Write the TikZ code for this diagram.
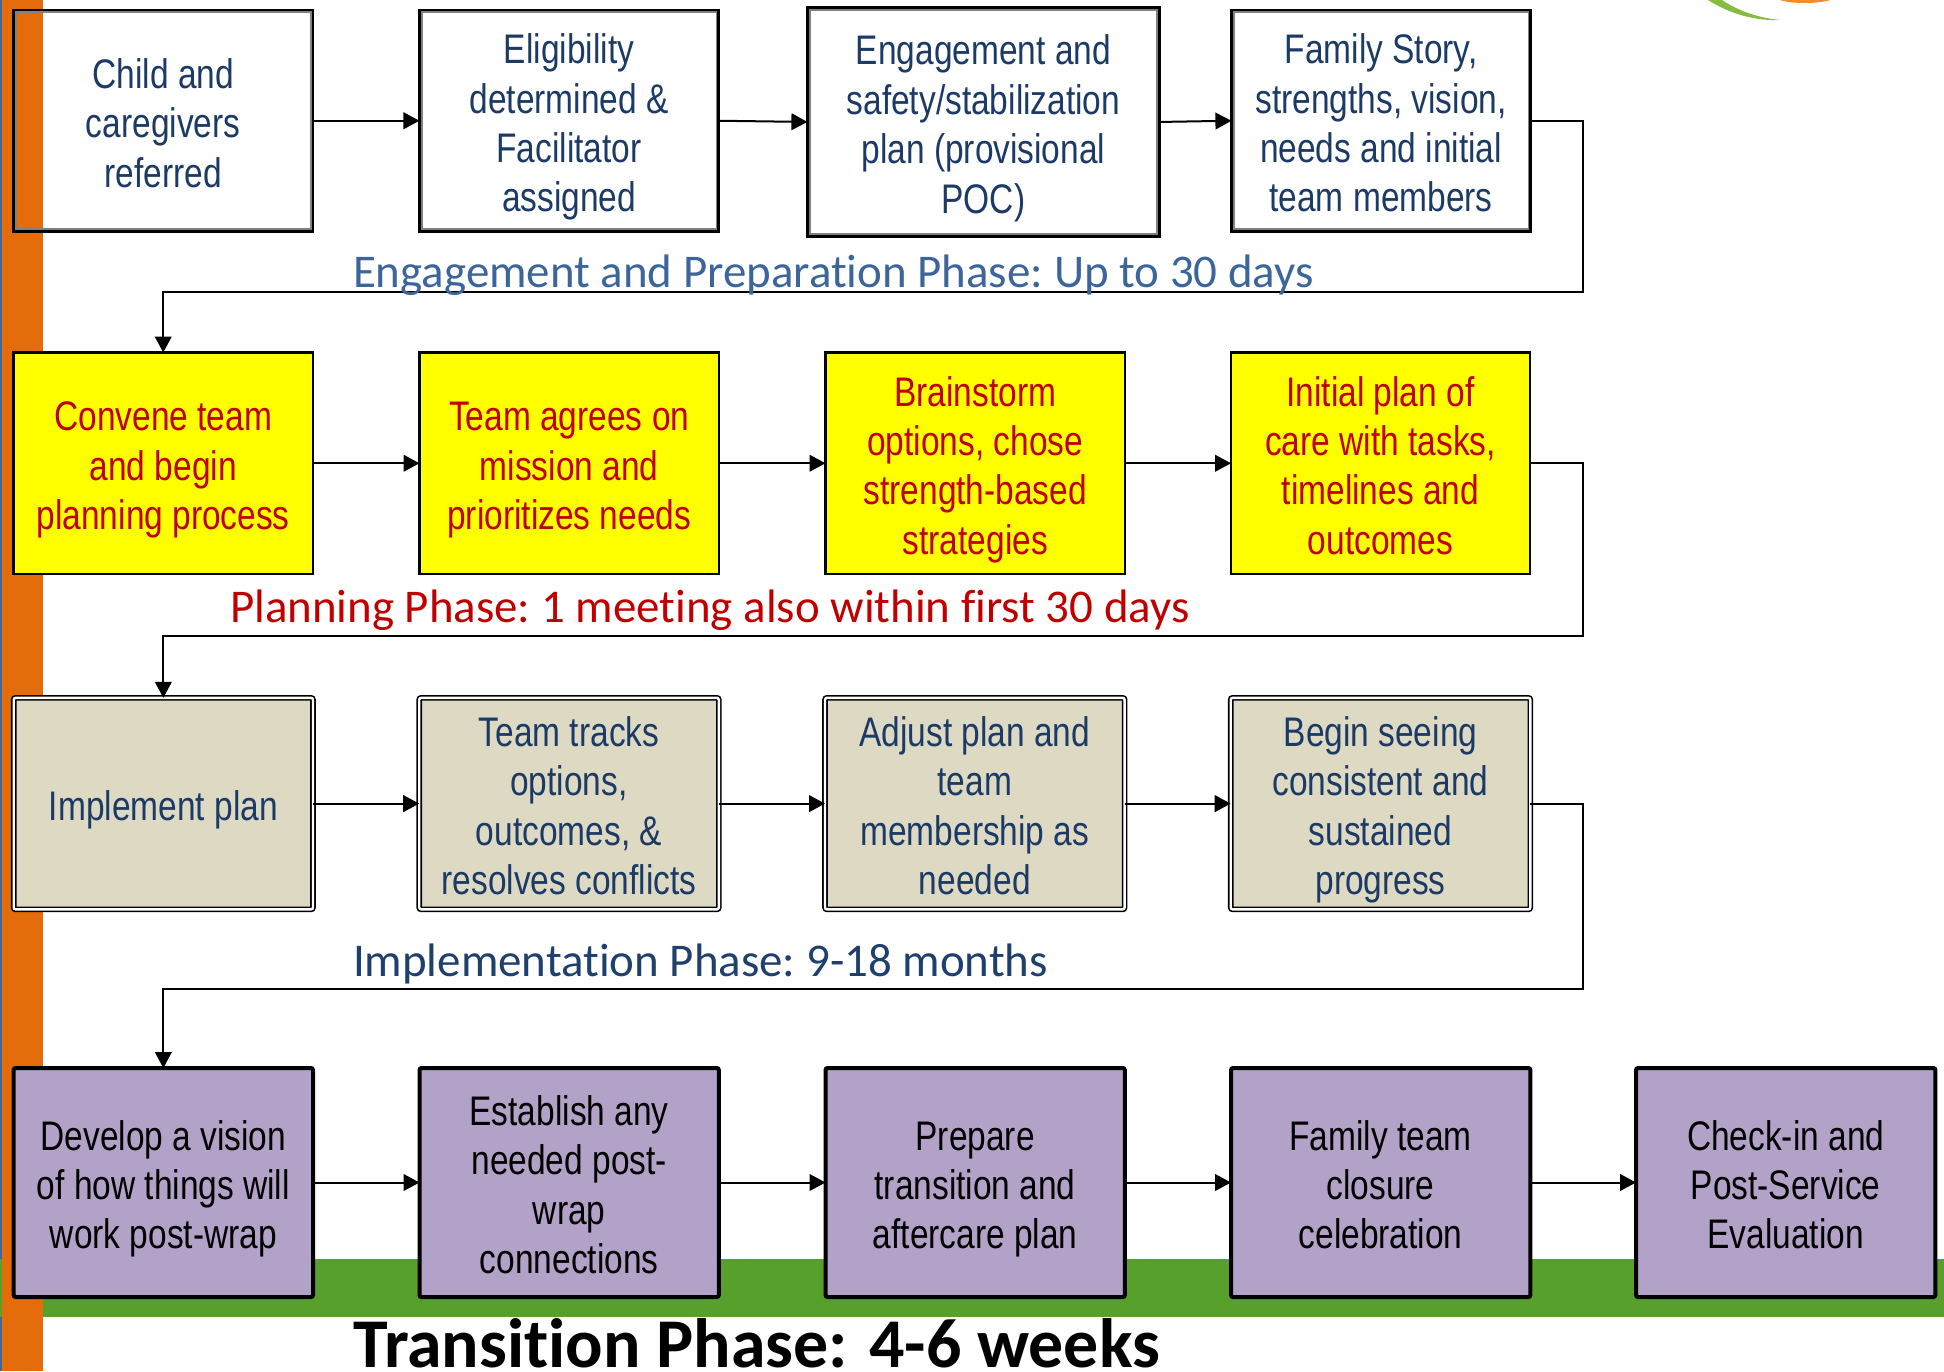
\documentclass[tikz,border=0pt]{standalone}
\usepackage{fontspec}
\setmainfont[FakeStretch=0.81]{Liberation Sans}
\newfontfamily\phasefont[Ligatures=NoCommon]{Carlito}
\usetikzlibrary{arrows.meta}
\definecolor{barorange}{HTML}{E46C0A}
\definecolor{barblue}{HTML}{3F6797}
\definecolor{bandgreen}{HTML}{57A02C}
\definecolor{navytext}{HTML}{1B3A66}
\definecolor{redtext}{HTML}{C00000}
\definecolor{fullyellow}{HTML}{FFFF00}
\definecolor{tanfill}{HTML}{DDD9C3}
\definecolor{purplefill}{HTML}{B2A2C7}
\definecolor{engblue}{HTML}{3B659B}
\definecolor{impblue}{HTML}{1F3F6E}
\definecolor{logogreen}{HTML}{84BD3F}
\definecolor{logoorange}{HTML}{F58A2C}
\tikzset{
  x=0.75pt,y=-0.75pt,
  boxbase/.style={rectangle,inner sep=0pt,outer sep=0pt,align=center,
    font=\fontsize{31}{37.1}\selectfont},
  whitebox/.style={boxbase,draw=black,line width=2pt,text=navytext},
  innerline/.style={draw=black!50,line width=1.4pt},
  yellowbox/.style={boxbase,draw=black,line width=1.7pt,fill=fullyellow,text=redtext},
  tanbox/.style={boxbase,draw=black,line width=1.2pt,double=white,double distance=1.8pt,
    fill=tanfill,text=navytext,rounded corners=1.5pt},
  purplebox/.style={boxbase,draw=black,line width=3pt,fill=purplefill,text=black,rounded corners=1.5pt},
  flow/.style={draw=black,line width=1.5pt,-{Triangle[length=12pt,width=12.5pt]}},
  phase/.style={anchor=base west,inner sep=0pt,outer sep=0pt},
}
\newcommand{\firstst}{\rule{0pt}{33.5pt}}
\newcommand{\lastst}{\rule[-8pt]{0pt}{8pt}}
\newcommand{\bx}[7]{\node[#6,minimum width={(#4-#2)*0.75pt},minimum height={(#5-#3)*0.75pt}] (#1) at ({(#2+#4)/2},{(#3+#5)/2}) {\firstst #7\lastst};}
\begin{document}
\begin{tikzpicture}
\useasboundingbox (0,0) rectangle (1944,1371);
% backdrop
\fill[bandgreen] (0,1259) rectangle (1944,1317);
\fill[barblue] (0,0) rectangle (2,1259);
\fill[barblue] (0,1317) rectangle (2,1371);
\fill[barorange] (2,0) rectangle (43,1371);
% logo fragments
\fill[logogreen] (1708,0) .. controls (1730,14) and (1755,21) .. (1780,20) .. controls (1760,18) and (1740,12) .. (1722,0) -- cycle;
\fill[logoorange] (1780,0) .. controls (1792,4) and (1818,4) .. (1830,0) -- cycle;
% row 1
\bx{a}{13.4}{10}{313}{231.5}{whitebox}{Child and\\caregivers\\referred}
\bx{b}{419.4}{10}{718.7}{231.5}{whitebox}{Eligibility\\determined \&\\Facilitator\\assigned}
\bx{c}{807.4}{7.4}{1159.5}{236.5}{whitebox}{Engagement and\\safety/stabilization\\plan (provisional\\POC)}
\bx{d}{1231.4}{10}{1530.7}{231.5}{whitebox}{Family Story,\\strengths, vision,\\needs and initial\\team members}
\foreach \n in {a,b,c,d}{
  \draw[innerline] ([xshift=1.7pt,yshift=-1.7pt]\n.north west) rectangle ([xshift=-1.7pt,yshift=1.7pt]\n.south east);
}
% row 2
\bx{e}{13.5}{352.5}{313}{574}{yellowbox}{Convene team\\and begin\\planning process}
\bx{f}{419.5}{352.5}{719}{574}{yellowbox}{Team agrees on\\mission and\\prioritizes needs}
\bx{g}{825.5}{352.5}{1125}{574}{yellowbox}{Brainstorm\\options, chose\\strength-based\\strategies}
\bx{h}{1231}{352.5}{1530}{574}{yellowbox}{Initial plan of\\care with tasks,\\timelines and\\outcomes}
% row 3
\bx{i}{13.7}{697.8}{313}{909.4}{tanbox}{Implement plan}
\bx{j}{419.2}{697.8}{718.8}{909.4}{tanbox}{Team tracks\\options,\\outcomes, \&\\resolves conflicts}
\bx{k}{825}{697.8}{1124.6}{909.4}{tanbox}{Adjust plan and\\team\\membership as\\needed}
\bx{l}{1230.7}{697.8}{1530.3}{909.4}{tanbox}{Begin seeing\\consistent and\\sustained\\progress}
% row 4
\bx{m}{13.7}{1068}{313}{1297}{purplebox}{Develop a vision\\of how things will\\work post-wrap}
\bx{n}{419.5}{1068}{718.8}{1297}{purplebox}{Establish any\\needed post-\\wrap\\connections}
\bx{o}{825.5}{1068}{1124.8}{1297}{purplebox}{Prepare\\transition and\\aftercare plan}
\bx{p}{1231}{1068}{1530.3}{1297}{purplebox}{Family team\\closure\\celebration}
\bx{q}{1636}{1068}{1935.3}{1297}{purplebox}{Check-in and\\Post-Service\\Evaluation}
% elbows
\coordinate (t1) at (1583,292);
\coordinate (t2) at (1583,636);
\coordinate (t3) at (1583,988.5);
% connectors
\draw[flow] (a.east) -- (b.west);
\draw[flow] (b.east) -- (c.west);
\draw[flow] (c.east) -- (d.west);
\draw[flow] (d.east) -| (t1) -| (e.north);
\draw[flow] (e.east) -- (f.west);
\draw[flow] (f.east) -- (g.west);
\draw[flow] (g.east) -- (h.west);
\draw[flow] (h.east) -| (t2) -| (i.north);
\draw[flow] (i.east) -- (j.west);
\draw[flow] (j.east) -- (k.west);
\draw[flow] (k.east) -- (l.west);
\draw[flow] (l.east) -| (t3) -| (m.north);
\draw[flow] (m.east) -- (n.west);
\draw[flow] (n.east) -- (o.west);
\draw[flow] (o.east) -- (p.west);
\draw[flow] (p.east) -- (q.west);
% phase labels
\node[phase,text=engblue] (ph1) at (353,287) {\phasefont\fontsize{35.2}{35.2}\selectfont Engagement and Preparation Phase:\kern-2.5pt{} Up to 30 days};
\node[phase,text=redtext] (ph2) at (230,622) {\phasefont\fontsize{35.2}{35.2}\selectfont Planning Phase:\kern-2.5pt{} 1 meeting also within first 30 days};
\node[phase,text=impblue] (ph3) at (353,976) {\phasefont\fontsize{35.2}{35.2}\selectfont Implementation Phase:\kern-2.5pt{} 9-18 months};
\node[phase,text=black] (ph4) at (353,1367) {\phasefont\bfseries\fontsize{52.4}{52.4}\selectfont Transition Phase: 4-6 weeks};
\end{tikzpicture}
\end{document}
